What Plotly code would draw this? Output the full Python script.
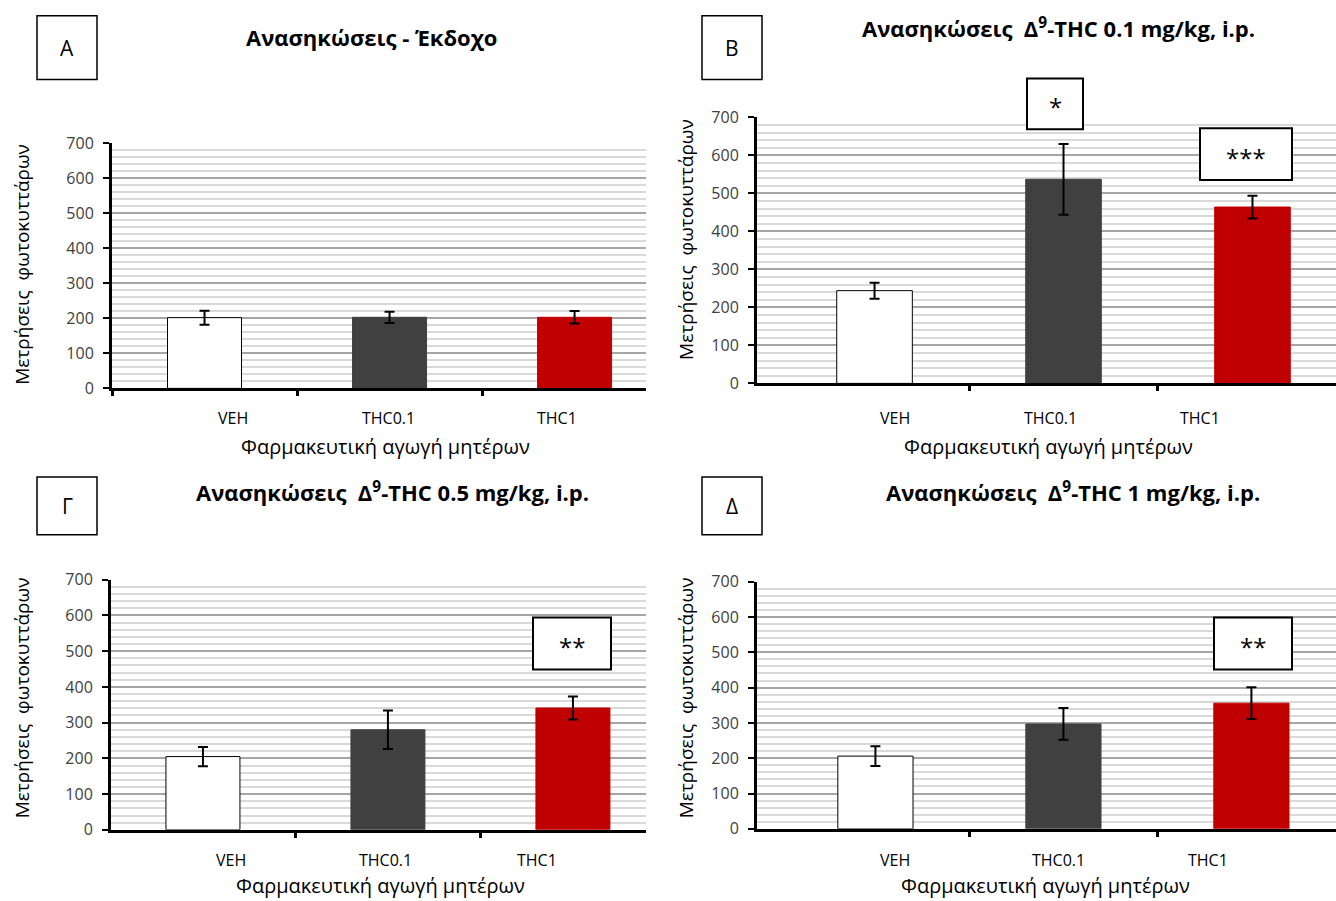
import plotly.graph_objects as go

categories = ["VEH", "THC0.1", "THC1"]

titles = [
    "Ανασηκώσεις - Έκδοχο",
    "Ανασηκώσεις  Δ<sup>9</sup>-THC 0.1 mg/kg, i.p.",
    "Ανασηκώσεις  Δ<sup>9</sup>-THC 0.5 mg/kg, i.p.",
    "Ανασηκώσεις  Δ<sup>9</sup>-THC 1 mg/kg, i.p.",
]
panel_letters = ["A", "B", "Γ", "Δ"]

vals_A = [202, 203, 203]
errs_A = [20, 16, 18]
vals_B = [244, 537, 464]
errs_B = [21, 93, 30]
vals_G = [205, 280, 341]
errs_G = [27, 54, 32]
vals_D = [206, 297, 356]
errs_D = [28, 45, 45]

sig_labels = [[], ["*", "***"], ["**"], ["**"]]

y_ticks = [0, 100, 200, 300, 400, 500, 600, 700]
x_title = "Φαρμακευτική αγωγή μητέρων"
y_title = "Μετρήσεις  φωτοκυττάρων"

bar_colors = ["#FFFFFF", "#404040", "#C00000"]
bar_lines = ["#000000", "#404040", "#C00000"]

W, H = 1336, 901
FONT = "Open Sans"

def px(x):
    return x / W

def py(y):
    # calibrated vertical mapping of target pixel to paper fraction
    return 1 - ((y - 10.3) / 0.979) / H

panels = [
    dict(vals=vals_A, errs=errs_A, x0=112, x1=646, y0=389, y1=143, xr=[-0.5, 2.386],
         tickv=[-0.5, 0.5, 1.5], lab_x=[233, 388, 557], lab_y=419,
         xt=(385, 447), yt=(22, 265), title=(372, 36),
         box=(37, 97, 15, 79),
         sig=[]),
    dict(vals=vals_B, errs=errs_B, x0=757, x1=1336, y0=384, y1=117, xr=[-0.622, 2.442],
         tickv=[0.5, 1.5], lab_x=[895, 1050, 1200], lab_y=419,
         xt=(1048, 447), yt=(686, 240), title=(1058, 27),
         box=(702, 762, 15, 79),
         sig=[(1027, 1083, 78, 129), (1200, 1292, 128, 180)]),
    dict(vals=vals_G, errs=errs_G, x0=111, x1=646, y0=832, y1=581, xr=[-0.497, 2.395],
         tickv=[-0.5, 0.5, 1.5], lab_x=[231, 386, 537], lab_y=862,
         xt=(380, 888), yt=(22, 700), title=(393, 492),
         box=(37, 97, 478, 536),
         sig=[(533, 611, 619, 671)]),
    dict(vals=vals_D, errs=errs_D, x0=757, x1=1336, y0=831, y1=583, xr=[-0.630, 2.45],
         tickv=[0.5, 1.5], lab_x=[895, 1058, 1208], lab_y=862,
         xt=(1045, 888), yt=(686, 700), title=(1073, 492),
         box=(702, 762, 478, 536),
         sig=[(1214, 1292, 619, 671)]),
]

fig = go.Figure()
annotations = []
shapes = []

for i, p in enumerate(panels):
    n = "" if i == 0 else str(i + 1)
    fig.add_trace(go.Bar(
        x=list(range(len(categories))), y=p["vals"],
        width=0.4,
        marker=dict(color=bar_colors, line=dict(color=bar_lines, width=1)),
        error_y=dict(type="data", array=p["errs"], color="black", thickness=2, width=5),
        xaxis="x" + n, yaxis="y" + n, showlegend=False,
        hovertext=categories,
    ))
    fig.update_layout(**{
        "xaxis" + n: dict(
            domain=[px(p["x0"]), min(1, px(p["x1"]))], anchor="y" + n,
            range=p["xr"], showgrid=False, zeroline=False,
            showline=True, linecolor="black", linewidth=3,
            tickvals=p["tickv"], showticklabels=False,
            ticks="outside", ticklen=5, tickwidth=3, tickcolor="black",
            fixedrange=True,
        ),
        "yaxis" + n: dict(
            domain=[py(p["y0"]), py(p["y1"])], anchor="x" + n,
            range=[0, 700], tickvals=y_ticks,
            showline=True, linecolor="black", linewidth=3,
            ticks="outside", ticklen=6, tickwidth=2, tickcolor="black",
            ticklabelstandoff=6,
            tickfont=dict(family=FONT, size=16, color="#404040"),
            showgrid=True, gridcolor="#A6A6A6", gridwidth=1.5,
            minor=dict(dtick=20, showgrid=True, gridcolor="#D9D9D9", gridwidth=2),
            zeroline=False, fixedrange=True,
        ),
    })
    for lx, c in zip(p["lab_x"], categories):
        annotations.append(dict(x=px(lx), y=py(p["lab_y"]), xref="paper", yref="paper",
                                text=c, showarrow=False, xanchor="center", yanchor="middle",
                                font=dict(family=FONT, size=16, color="#000000")))
    annotations.append(dict(x=px(p["xt"][0]), y=py(p["xt"][1]), xref="paper", yref="paper",
                            text=x_title, showarrow=False, xanchor="center", yanchor="middle",
                            font=dict(family=FONT, size=20, color="#000000")))
    annotations.append(dict(x=px(p["yt"][0]), y=py(p["yt"][1]), xref="paper", yref="paper",
                            text=y_title, showarrow=False, textangle=-90,
                            xanchor="center", yanchor="middle",
                            font=dict(family=FONT, size=19, color="#000000")))
    annotations.append(dict(x=px(p["title"][0]), y=py(p["title"][1]), xref="paper", yref="paper",
                            text="<b>" + titles[i] + "</b>", showarrow=False,
                            xanchor="center", yanchor="middle",
                            font=dict(family=FONT, size=22, color="#000000")))
    bx0, bx1, by0, by1 = p["box"]
    shapes.append(dict(type="rect", xref="paper", yref="paper",
                       x0=px(bx0), x1=px(bx1), y0=py(by1), y1=py(by0),
                       line=dict(color="black", width=1.5), fillcolor="white"))
    annotations.append(dict(x=px((bx0 + bx1) / 2), y=py((by0 + by1) / 2), xref="paper", yref="paper",
                            text=panel_letters[i], showarrow=False, xanchor="center", yanchor="middle",
                            font=dict(family=FONT, size=21, color="#000000")))
    for (sx0, sx1, sy0, sy1), s in zip(p["sig"], sig_labels[i]):
        shapes.append(dict(type="rect", xref="paper", yref="paper",
                           x0=px(sx0), x1=px(sx1), y0=py(sy1), y1=py(sy0),
                           line=dict(color="black", width=2), fillcolor="white"))
        annotations.append(dict(x=px((sx0 + sx1) / 2), y=py((sy0 + sy1) / 2 + 3), xref="paper", yref="paper",
                                text=s, showarrow=False, xanchor="center", yanchor="middle",
                                font=dict(family=FONT, size=24, color="#000000")))

fig.update_layout(
    width=W, height=H,
    margin=dict(l=0, r=0, t=0, b=0),
    paper_bgcolor="white", plot_bgcolor="white",
    annotations=annotations, shapes=shapes,
    bargap=0.6, showlegend=False,
)

fig.write_html("out.html")
